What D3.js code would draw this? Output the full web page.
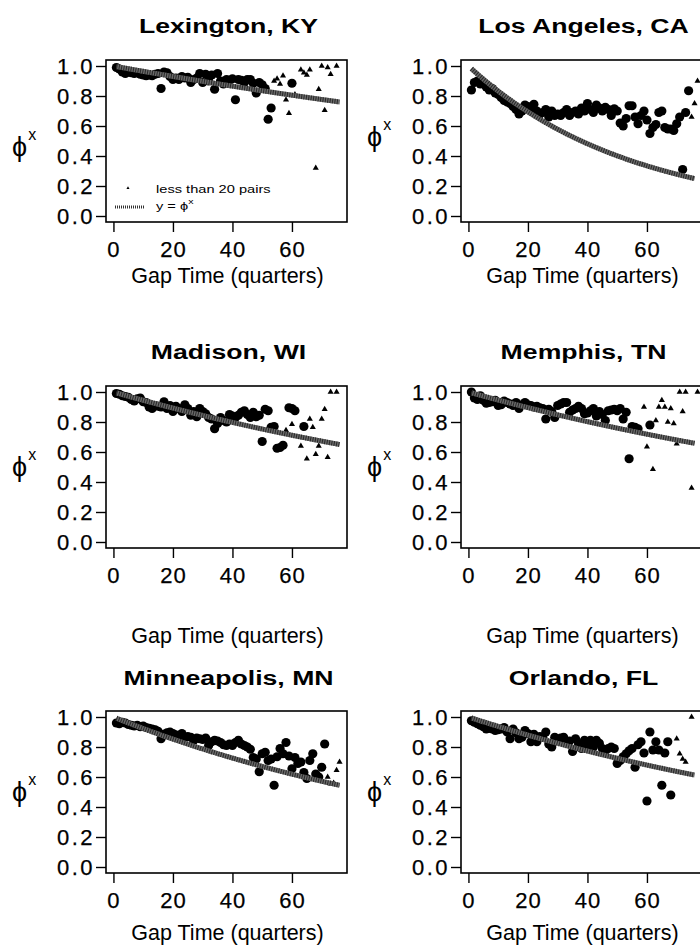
<!DOCTYPE html>
<html>
<head>
<meta charset="utf-8">
<script src="https://cdn.jsdelivr.net/npm/d3@7"></script>
<style>
  body { margin: 0; background: #fff; }
  svg { display: block; }
  text { font-family: "Liberation Sans", Arial, Helvetica, sans-serif; fill: #000; }
</style>
</head>
<body>
<svg id="chart" width="700" height="947"></svg>
<script>
// Panel titles, in reading order (two columns, three rows)
const cities = ["Lexington, KY", "Los Angeles, CA", "Madison, WI", "Memphis, TN", "Minneapolis, MN", "Orlando, FL"];

// Fitted decay parameter per city: reference curve y = phi^x
const phiValues = [0.99640, 0.98190, 0.99435, 0.99451, 0.99204, 0.99358];

// Estimated phi^x by gap time (quarters): [gap, value]; circles = 20+ pairs
const lexingtonCircles = [[1,0.99],[2,0.98],[3,0.96],[4,0.95],[5,0.96],[6,0.955],[7,0.95],[8,0.955],[9,0.945],[10,0.94],[11,0.935],[12,0.94],[13,0.935],[14,0.945],[15,0.95],[16,0.85],[17,0.96],[18,0.955],[19,0.93],[20,0.91],[21,0.92],[22,0.91],[23,0.93],[24,0.92],[25,0.925],[26,0.89],[27,0.91],[28,0.92],[29,0.95],[30,0.89],[31,0.945],[32,0.90],[33,0.94],[34,0.845],[35,0.95],[36,0.90],[37,0.88],[38,0.91],[39,0.905],[40,0.915],[41,0.775],[42,0.91],[43,0.905],[44,0.89],[45,0.91],[46,0.91],[47,0.885],[48,0.82],[49,0.89],[50,0.875],[51,0.85],[52,0.645],[53,0.72],[60,0.885]];
const lexingtonTriangles = [[54,0.90],[55,0.915],[56,0.88],[57,0.935],[58,0.775],[59,0.685],[61,0.81],[63,0.975],[64,0.955],[65,0.94],[66,0.975],[68,0.32],[69,0.845],[70,1.0],[71,0.705],[72,0.99],[73,0.945],[75,1.0]];

const losAngelesCircles = [[1,0.84],[2,0.89],[3,0.90],[4,0.88],[5,0.89],[6,0.86],[7,0.84],[8,0.85],[9,0.82],[10,0.81],[11,0.79],[12,0.77],[13,0.76],[14,0.75],[15,0.73],[16,0.71],[17,0.68],[18,0.70],[19,0.74],[20,0.73],[21,0.72],[22,0.745],[23,0.70],[24,0.68],[25,0.69],[26,0.71],[27,0.66],[28,0.70],[29,0.67],[30,0.68],[31,0.67],[32,0.69],[33,0.71],[34,0.67],[35,0.69],[36,0.70],[37,0.68],[38,0.72],[39,0.70],[40,0.75],[41,0.71],[42,0.69],[43,0.74],[44,0.72],[45,0.70],[46,0.725],[47,0.71],[48,0.67],[49,0.715],[50,0.70],[51,0.62],[52,0.60],[53,0.65],[54,0.735],[55,0.735],[56,0.66],[57,0.615],[58,0.67],[59,0.70],[60,0.64],[61,0.55],[62,0.59],[63,0.61],[64,0.69],[65,0.70],[66,0.59],[67,0.58],[68,0.58],[69,0.57],[70,0.615],[71,0.66],[72,0.31],[73,0.69],[74,0.835]];
const losAngelesTriangles = [[75,0.66],[76,0.75],[77,0.90]];

const madisonCircles = [[1,0.99],[2,0.985],[3,0.975],[4,0.97],[5,0.965],[6,0.95],[7,0.94],[8,0.955],[9,0.96],[10,0.935],[11,0.93],[12,0.90],[13,0.89],[14,0.91],[15,0.905],[16,0.90],[17,0.935],[18,0.89],[19,0.91],[20,0.87],[21,0.905],[22,0.89],[23,0.87],[24,0.915],[25,0.89],[26,0.845],[27,0.87],[28,0.835],[29,0.89],[30,0.87],[31,0.855],[32,0.83],[33,0.82],[34,0.755],[35,0.79],[36,0.83],[37,0.81],[38,0.80],[39,0.85],[40,0.84],[41,0.83],[42,0.845],[43,0.865],[44,0.875],[45,0.85],[46,0.83],[47,0.865],[48,0.835],[49,0.845],[50,0.67],[51,0.885],[52,0.875],[53,0.765],[54,0.77],[55,0.625],[56,0.63],[57,0.645],[59,0.895],[60,0.89],[61,0.875],[64,0.77]];
const madisonTriangles = [[58,0.745],[60,0.785],[63,0.64],[65,0.555],[66,0.82],[67,0.765],[68,0.585],[69,0.64],[70,0.82],[71,0.885],[72,0.565],[73,1.0],[75,1.0]];

const memphisCircles = [[1,1.0],[2,0.96],[3,0.95],[4,0.975],[5,0.945],[6,0.925],[7,0.93],[8,0.935],[9,0.945],[10,0.91],[11,0.915],[12,0.94],[13,0.93],[14,0.92],[15,0.91],[16,0.93],[17,0.89],[18,0.915],[19,0.93],[20,0.915],[21,0.91],[22,0.90],[23,0.905],[24,0.895],[25,0.89],[26,0.82],[27,0.885],[28,0.87],[29,0.83],[30,0.91],[31,0.92],[32,0.93],[33,0.93],[34,0.865],[35,0.88],[36,0.89],[37,0.905],[38,0.89],[39,0.855],[40,0.86],[41,0.875],[42,0.89],[43,0.84],[44,0.87],[45,0.85],[46,0.81],[47,0.875],[48,0.88],[49,0.885],[50,0.875],[51,0.89],[52,0.82],[53,0.865],[54,0.555],[55,0.77],[56,0.765],[57,0.755],[61,0.78]];
const memphisTriangles = [[59,0.90],[60,0.635],[62,0.485],[63,0.81],[64,0.90],[65,0.945],[66,0.90],[67,0.80],[68,0.89],[69,0.79],[70,0.655],[71,1.0],[72,0.87],[73,1.0],[75,0.36],[77,1.0]];

const minneapolisCircles = [[1,0.96],[2,0.955],[3,0.965],[4,0.96],[5,0.95],[6,0.945],[7,0.94],[8,0.945],[9,0.935],[10,0.94],[11,0.93],[12,0.925],[13,0.92],[14,0.915],[15,0.905],[16,0.855],[17,0.885],[18,0.895],[19,0.90],[20,0.89],[21,0.88],[22,0.875],[23,0.89],[24,0.865],[25,0.87],[26,0.865],[27,0.845],[28,0.86],[29,0.855],[30,0.85],[31,0.86],[32,0.81],[33,0.835],[34,0.845],[35,0.84],[36,0.83],[37,0.815],[38,0.81],[39,0.82],[40,0.81],[41,0.83],[42,0.845],[43,0.82],[44,0.81],[45,0.80],[46,0.785],[47,0.73],[48,0.72],[49,0.635],[50,0.755],[51,0.765],[52,0.71],[53,0.72],[54,0.545],[55,0.735],[56,0.79],[57,0.755],[58,0.83],[59,0.74],[60,0.655],[61,0.73],[62,0.69],[63,0.70],[64,0.63],[65,0.59],[66,0.71],[67,0.755],[68,0.62],[69,0.60],[70,0.665],[71,0.82]];
const minneapolisTriangles = [[72,0.60],[73,0.555],[74,0.56],[75,0.645],[76,0.70]];

const orlandoCircles = [[1,0.975],[2,0.965],[3,0.955],[4,0.945],[5,0.935],[6,0.92],[7,0.925],[8,0.92],[9,0.91],[10,0.915],[11,0.92],[12,0.93],[13,0.90],[14,0.855],[15,0.92],[16,0.895],[17,0.855],[18,0.865],[19,0.91],[20,0.89],[21,0.835],[22,0.885],[23,0.835],[24,0.87],[25,0.865],[26,0.90],[27,0.82],[28,0.80],[29,0.865],[30,0.85],[31,0.86],[32,0.865],[33,0.825],[34,0.84],[35,0.77],[36,0.855],[37,0.82],[38,0.79],[39,0.845],[40,0.81],[41,0.845],[42,0.80],[43,0.845],[44,0.825],[45,0.79],[46,0.775],[47,0.79],[48,0.80],[49,0.79],[50,0.69],[51,0.71],[52,0.735],[53,0.755],[54,0.775],[55,0.79],[56,0.665],[57,0.815],[58,0.835],[59,0.76],[60,0.44],[61,0.90],[62,0.78],[63,0.835],[64,0.78],[65,0.545],[66,0.76],[67,0.835],[68,0.48]];
const orlandoTriangles = [[70,0.855],[71,0.755],[72,0.72],[73,0.70],[75,1.0]];

const circleSeries = [lexingtonCircles, losAngelesCircles, madisonCircles, memphisCircles, minneapolisCircles, orlandoCircles];
const triangleSeries = [lexingtonTriangles, losAngelesTriangles, madisonTriangles, memphisTriangles, minneapolisTriangles, orlandoTriangles];

const xTicks = [0, 20, 40, 60];
const yTicks = [0, 0.2, 0.4, 0.6, 0.8, 1.0];
const PHI = "\u03d5";
const legendLabels = ["less than 20 pairs", "y = " + PHI];

// ---- layout ----
const colLeft = [106, 461];
const rowTop = [60, 386, 711];
const boxW = 241, boxH = 162;
const titleGap = [27, 27, 26];          // title baseline above the box
const xTitleGap = [61, 95, 67];         // axis title baseline below the box
const phiBase = [[156, 146], [476, 476], [801, 801]];

const svg = d3.select("#chart");

cities.forEach((city, i) => {
  const col = i % 2, row = Math.floor(i / 2);
  const left = colLeft[col], top = rowTop[row];
  const bottom = top + boxH;

  const x = d3.scaleLinear().domain([-2.5, 78.5]).range([left, left + boxW]);
  const y = d3.scaleLinear().domain([0, 1]).range([top + 156, top + 6]);

  const g = svg.append("g");

  // title (wide bold face)
  g.append("text")
    .attr("transform", `translate(${left + boxW / 2 + 2},${top - titleGap[row]}) scale(1.3,1)`)
    .attr("text-anchor", "middle")
    .attr("font-size", 20.5)
    .attr("font-weight", "bold")
    .text(city);

  // axes
  const yAxis = g.append("g")
    .attr("transform", `translate(${left},0)`)
    .call(d3.axisLeft(y).tickValues(yTicks).tickFormat(d3.format(".1f")).tickSize(10).tickPadding(1));
  const xAxis = g.append("g")
    .attr("transform", `translate(0,${bottom})`)
    .call(d3.axisBottom(x).tickValues(xTicks).tickFormat(d3.format("d")).tickSize(10).tickPadding(9));
  [yAxis, xAxis].forEach(a => {
    a.select(".domain").remove();
    a.selectAll(".tick line").attr("stroke", "#000").attr("stroke-width", 1.4);
    a.selectAll(".tick text")
      .attr("font-size", 22)
      .attr("font-family", '"Liberation Sans", Arial, sans-serif')
      .attr("fill", "#000")
      .attr("stroke", "#000").attr("stroke-width", 0.25);
  });
  yAxis.selectAll(".tick text").attr("letter-spacing", 2.5).attr("dy", "0.36em");
  xAxis.selectAll(".tick text").attr("letter-spacing", 1);

  // axis titles
  g.append("text")
    .attr("x", left + boxW / 2 + 1)
    .attr("y", bottom + xTitleGap[row])
    .attr("text-anchor", "middle")
    .attr("font-size", 21.5)
    .text("Gap Time (quarters)");
  const yl = g.append("text")
    .attr("x", left - 94)
    .attr("y", phiBase[row][col])
    .attr("font-size", 27);
  yl.append("tspan").text(PHI);
  yl.append("tspan").attr("font-size", 16).attr("dy", -16).attr("dx", 1).text("x");

  // clip to the plotting box
  const clipId = `clip${i}`;
  g.append("clipPath").attr("id", clipId)
    .append("rect").attr("x", left).attr("y", top).attr("width", boxW).attr("height", boxH);
  const plot = g.append("g").attr("clip-path", `url(#${clipId})`);

  // 20+ pairs
  plot.selectAll("circle.pt")
    .data(circleSeries[i])
    .join("circle")
    .attr("class", "pt")
    .attr("cx", d => x(d[0]))
    .attr("cy", d => y(d[1]))
    .attr("r", 4.6)
    .attr("fill", "#000");

  // fewer than 20 pairs
  const tri = d3.symbol().type(d3.symbolTriangle).size(16);
  plot.selectAll("path.tri")
    .data(triangleSeries[i])
    .join("path")
    .attr("class", "tri")
    .attr("transform", d => `translate(${x(d[0])},${y(d[1])})`)
    .attr("d", tri)
    .attr("fill", "#000");

  // reference curve y = phi^x, textured thick stroke
  const phi = phiValues[i];
  const gaps = d3.range(1, 76.01, 0.25);
  const curve = d3.line().x(q => x(q)).y(q => y(Math.pow(phi, q)));
  plot.append("path").datum(gaps)
    .attr("d", curve).attr("fill", "none")
    .attr("stroke", "#6a6a6a").attr("stroke-width", 5);
  plot.append("path").datum(gaps)
    .attr("d", curve).attr("fill", "none")
    .attr("stroke", "#111").attr("stroke-width", 5)
    .attr("stroke-dasharray", "1 1.4").attr("opacity", 0.75);

  // plot box
  g.append("rect")
    .attr("x", left).attr("y", top).attr("width", boxW).attr("height", boxH)
    .attr("fill", "none").attr("stroke", "#000").attr("stroke-width", 1.6);

  // legend (first panel only)
  if (i === 0) {
    const lg = g.append("g");
    lg.append("path")
      .attr("transform", `translate(${left + 22},${top + 128})`)
      .attr("d", d3.symbol().type(d3.symbolTriangle).size(4))
      .attr("fill", "#000");
    lg.append("text")
      .attr("transform", `translate(${left + 50},${top + 133}) scale(1.33,1)`)
      .attr("font-size", 11)
      .text(legendLabels[0]);
    lg.append("line")
      .attr("x1", left + 9).attr("x2", left + 39)
      .attr("y1", top + 147).attr("y2", top + 147)
      .attr("stroke", "#333").attr("stroke-width", 3)
      .attr("stroke-dasharray", "1 1");
    const t2 = lg.append("text")
      .attr("transform", `translate(${left + 50},${top + 150}) scale(1.33,1)`)
      .attr("font-size", 11);
    t2.append("tspan").text(legendLabels[1]);
    t2.append("tspan").attr("font-size", 8).attr("dy", -6).text("x");
  }
});
</script>
</body>
</html>
